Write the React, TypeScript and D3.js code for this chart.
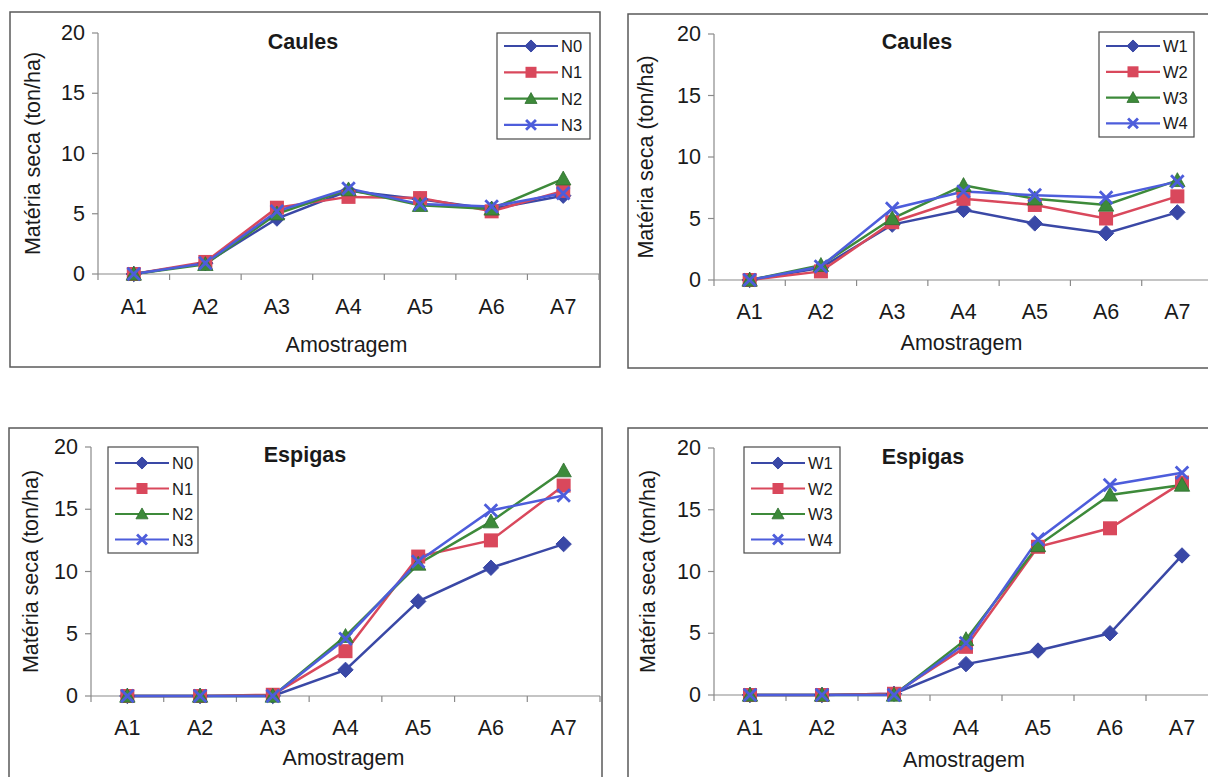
import React from "react";
import * as d3 from "d3";

// ---------- DATA ----------
const categories = ["A1", "A2", "A3", "A4", "A5", "A6", "A7"];
const yTicks = [0, 5, 10, 15, 20];

const caulesN0 = [0, 0.9, 4.6, 6.9, 6.2, 5.4, 6.5];
const caulesN1 = [0, 1.0, 5.5, 6.4, 6.3, 5.2, 6.9];
const caulesN2 = [0, 0.8, 5.0, 7.0, 5.7, 5.4, 7.9];
const caulesN3 = [0, 0.9, 5.2, 7.1, 5.8, 5.6, 6.7];

const caulesW1 = [0, 1.0, 4.5, 5.7, 4.6, 3.8, 5.5];
const caulesW2 = [0, 0.7, 4.7, 6.6, 6.1, 5.0, 6.8];
const caulesW3 = [0, 1.2, 5.0, 7.7, 6.6, 6.1, 8.1];
const caulesW4 = [0, 1.1, 5.8, 7.2, 6.9, 6.7, 8.0];

const espigasN0 = [0, 0, 0, 2.1, 7.6, 10.3, 12.2];
const espigasN1 = [0, 0, 0.1, 3.6, 11.2, 12.5, 16.9];
const espigasN2 = [0, 0, 0, 4.8, 10.6, 14.0, 18.1];
const espigasN3 = [0, 0, 0, 4.6, 10.8, 14.9, 16.1];

const espigasW1 = [0, 0, 0.1, 2.5, 3.6, 5.0, 11.3];
const espigasW2 = [0, 0, 0.1, 3.9, 12.0, 13.5, 17.2];
const espigasW3 = [0, 0, 0, 4.5, 12.1, 16.2, 17.0];
const espigasW4 = [0, 0, 0, 4.2, 12.6, 17.0, 18.0];

const namesN = ["N0", "N1", "N2", "N3"];
const namesW = ["W1", "W2", "W3", "W4"];

// ---------- STYLE ----------
const colors = ["#3a48a6", "#d9485c", "#3d8a3a", "#4d5ddb"];
const markers = ["diamond", "square", "triangle", "cross"];
const FONT = "'Liberation Sans', Arial, sans-serif";

type Layout = {
  frame: { x: number; y: number; w: number; h: number };
  x0: number; x1: number; y0: number; y20: number;
  title: string; titleX: number; titleY: number;
  legend: { x: number; y: number; w: number; h: number; row0: number; step: number };
  tickLabelY: number; xLabelY: number; yLabelX: number;
};

function Marker({ type, x, y, color, s }: { type: string; x: number; y: number; color: string; s: number }) {
  if (type === "diamond") {
    const r = s * 0.55;
    return <path d={`M${x},${y - r}L${x + r},${y}L${x},${y + r}L${x - r},${y}Z`} fill={color} stroke={color} strokeWidth={1} />;
  }
  if (type === "square") {
    const h = s * 0.5;
    return <rect x={x - h} y={y - h} width={2 * h} height={2 * h} fill={color} />;
  }
  if (type === "triangle") {
    const h = s * 0.55;
    return <path d={`M${x},${y - h}L${x + h},${y + h * 0.8}L${x - h},${y + h * 0.8}Z`} fill={color} stroke="#2f6f2f" strokeWidth={0.8} />;
  }
  const h = s * 0.45;
  return (
    <path d={`M${x - h},${y - h}L${x + h},${y + h}M${x - h},${y + h}L${x + h},${y - h}`} stroke={color} strokeWidth={2.8} fill="none" />
  );
}

function Panel({ L, series, names }: { L: Layout; series: number[][]; names: string[] }) {
  const x = d3.scaleBand<string>().domain(categories).range([L.x0, L.x1]).padding(0);
  const y = d3.scaleLinear().domain([0, 20]).range([L.y0, L.y20]);
  const cx = (c: string) => (x(c) as number) + x.bandwidth() / 2;
  const line = d3
    .line<number>()
    .x((_, i) => cx(categories[i]))
    .y((d) => y(d));
  const bounds = categories.map((c) => x(c) as number).concat([L.x1]);
  const axisColor = "#8a8a8a";
  const yMid = (L.y0 + L.y20) / 2;
  const xMid = (L.x0 + L.x1) / 2;
  return (
    <g>
      <rect x={L.frame.x} y={L.frame.y} width={L.frame.w} height={L.frame.h} fill="white" stroke="#5a5a5a" strokeWidth={1.5} />
      {/* y axis */}
      <line x1={L.x0} x2={L.x0} y1={y(20)} y2={y(0)} stroke={axisColor} strokeWidth={1.2} />
      {yTicks.map((t) => (
        <g key={t}>
          <line x1={L.x0 - 6} x2={L.x0} y1={y(t)} y2={y(t)} stroke={axisColor} strokeWidth={1.2} />
          <text x={L.x0 - 13} y={y(t)} textAnchor="end" dominantBaseline="central" fontSize={21.5} fontFamily={FONT} fill="#1a1a1a">
            {t}
          </text>
        </g>
      ))}
      {/* x axis */}
      <line x1={L.x0} x2={L.x1} y1={y(0)} y2={y(0)} stroke={axisColor} strokeWidth={1.2} />
      {bounds.map((b, i) => (
        <line key={i} x1={b} x2={b} y1={y(0)} y2={y(0) + 6} stroke={axisColor} strokeWidth={1.2} />
      ))}
      {categories.map((c) => (
        <text key={c} x={cx(c)} y={L.tickLabelY} textAnchor="middle" dominantBaseline="central" fontSize={21.5} fontFamily={FONT} fill="#1a1a1a">
          {c}
        </text>
      ))}
      <text x={xMid - 2} y={L.xLabelY} textAnchor="middle" dominantBaseline="central" fontSize={21.5} fontFamily={FONT} fill="#1a1a1a">
        Amostragem
      </text>
      <text
        transform={`translate(${L.yLabelX},${yMid}) rotate(-90)`}
        textAnchor="middle"
        dominantBaseline="central"
        fontSize={21.5}
        fontFamily={FONT}
        fill="#1a1a1a"
      >
        Matéria seca (ton/ha)
      </text>
      <text x={L.titleX} y={L.titleY} textAnchor="middle" dominantBaseline="central" fontSize={21.5} fontWeight="bold" fontFamily={FONT} fill="#1a1a1a">
        {L.title}
      </text>
      {/* series */}
      {series.map((s, k) => (
        <path key={"l" + k} d={line(s) || ""} fill="none" stroke={colors[k]} strokeWidth={2.5} />
      ))}
      {series.map((s, k) =>
        s.map((v, i) => <Marker key={"m" + k + "-" + i} type={markers[k]} x={cx(categories[i])} y={y(v)} color={colors[k]} s={14} />)
      )}
      {/* legend */}
      <rect x={L.legend.x} y={L.legend.y} width={L.legend.w} height={L.legend.h} fill="white" stroke="#4a4a4a" strokeWidth={1.2} />
      {names.map((n, k) => {
        const ry = L.legend.y + L.legend.row0 + k * L.legend.step;
        const lx0 = L.legend.x + 7;
        const lx1 = L.legend.x + 61;
        return (
          <g key={n}>
            <line x1={lx0} x2={lx1} y1={ry} y2={ry} stroke={colors[k]} strokeWidth={2.2} />
            <Marker type={markers[k]} x={(lx0 + lx1) / 2} y={ry} color={colors[k]} s={11} />
            <text x={lx1 + 3} y={ry} dominantBaseline="central" fontSize={16.5} fontFamily={FONT} fill="#1a1a1a">
              {n}
            </text>
          </g>
        );
      })}
    </g>
  );
}

const layouts: Layout[] = [
  {
    frame: { x: 10, y: 12, w: 590, h: 355 },
    x0: 98, x1: 599, y0: 274, y20: 33,
    title: "Caules", titleX: 303, titleY: 42,
    legend: { x: 497, y: 33, w: 93, h: 106, row0: 13, step: 26.3 },
    tickLabelY: 307, xLabelY: 345, yLabelX: 33,
  },
  {
    frame: { x: 628, y: 14, w: 600, h: 354 },
    x0: 714, x1: 1213, y0: 280, y20: 34,
    title: "Caules", titleX: 917, titleY: 42,
    legend: { x: 1099, y: 32, w: 95, h: 105, row0: 14, step: 25.8 },
    tickLabelY: 312, xLabelY: 343, yLabelX: 646,
  },
  {
    frame: { x: 9, y: 428, w: 593, h: 400 },
    x0: 91, x1: 600, y0: 696, y20: 447,
    title: "Espigas", titleX: 305, titleY: 455,
    legend: { x: 108, y: 447, w: 90, h: 106, row0: 16, step: 25.5 },
    tickLabelY: 728, xLabelY: 758, yLabelX: 31,
  },
  {
    frame: { x: 628, y: 428, w: 600, h: 400 },
    x0: 714, x1: 1218, y0: 695, y20: 448,
    title: "Espigas", titleX: 923, titleY: 457,
    legend: { x: 744, y: 447, w: 96, h: 106, row0: 16, step: 25.5 },
    tickLabelY: 728, xLabelY: 760, yLabelX: 648,
  },
];

export default function App() {
  return (
    <svg width={1208} height={777} style={{ position: "absolute", left: 0, top: 0, background: "white" }}>
      <rect x={0} y={0} width={1208} height={777} fill="white" />
      <Panel L={layouts[0]} series={[caulesN0, caulesN1, caulesN2, caulesN3]} names={namesN} />
      <Panel L={layouts[1]} series={[caulesW1, caulesW2, caulesW3, caulesW4]} names={namesW} />
      <Panel L={layouts[2]} series={[espigasN0, espigasN1, espigasN2, espigasN3]} names={namesN} />
      <Panel L={layouts[3]} series={[espigasW1, espigasW2, espigasW3, espigasW4]} names={namesW} />
    </svg>
  );
}
